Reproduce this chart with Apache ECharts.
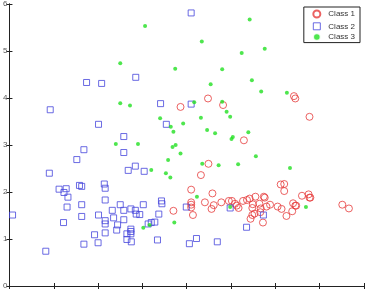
<!DOCTYPE html>
<html>
<head>
    <meta charset="utf-8">
    <title>Classes</title>
    <script src="https://cdn.jsdelivr.net/npm/echarts@6/dist/echarts.min.js"></script>
    <style>
        html, body { margin: 0; padding: 0; background: #fff; }
        #chart { width: 369px; height: 290px; }
    </style>
</head>
<body>
<div id="chart"></div>
<script type="text/javascript">
    const seriesNames = ['Class 1', 'Class 2', 'Class 3'];
    const yTicks = [0, 1, 2, 3, 4, 5, 6];

    const class1 = [
        [3.86, 3.81], [4.48, 3.99], [4.82, 3.85], [6.42, 4.04], [6.45, 3.99], [6.77, 3.60],
        [5.29, 3.10], [3.70, 1.60], [4.49, 2.60], [4.32, 2.36], [4.10, 2.05], [4.58, 1.97],
        [6.12, 2.16], [6.20, 2.17], [6.20, 2.02], [4.10, 1.78], [4.10, 1.73], [4.10, 1.67],
        [4.14, 1.51], [4.41, 1.78], [4.56, 1.64], [4.61, 1.72], [4.78, 1.78], [4.95, 1.81],
        [5.02, 1.81], [5.09, 1.75], [5.13, 1.71], [5.17, 1.66], [5.27, 1.81], [5.36, 1.83],
        [5.42, 1.86], [5.55, 1.90], [5.49, 1.74], [5.48, 1.66], [5.64, 1.75], [5.67, 1.65],
        [5.66, 1.57], [5.74, 1.90], [5.76, 1.88], [5.80, 1.69], [5.88, 1.73], [5.53, 1.54],
        [5.48, 1.51], [5.44, 1.43], [5.72, 1.35], [6.05, 1.69], [6.14, 1.64], [6.25, 1.49],
        [6.38, 1.59], [6.40, 1.76], [6.45, 1.71], [6.47, 1.71], [6.60, 1.92], [6.75, 1.95],
        [6.77, 1.88], [6.79, 1.88], [7.51, 1.73], [7.66, 1.65]
    ];

    const class2 = [
        [1.74, 4.33], [2.08, 4.31], [2.85, 4.44], [0.92, 3.75], [3.41, 3.88], [3.54, 3.44],
        [2.01, 3.44], [2.58, 3.18], [4.10, 5.81], [4.10, 3.87], [1.68, 2.90], [2.58, 2.84],
        [1.52, 2.69], [0.90, 2.40], [2.68, 2.46], [2.84, 2.55], [3.04, 2.44], [1.12, 2.06],
        [1.28, 2.07], [1.23, 1.99], [1.32, 1.89], [1.58, 2.14], [1.63, 2.12], [2.14, 2.17],
        [2.16, 2.08], [2.16, 1.83], [1.30, 1.68], [1.63, 1.73], [2.50, 1.73], [3.02, 1.73],
        [3.43, 1.81], [3.44, 1.75], [3.99, 1.68], [2.32, 1.61], [2.58, 1.61], [2.74, 1.64],
        [2.84, 1.61], [2.86, 1.53], [2.94, 1.52], [3.37, 1.53], [0.07, 1.51], [1.63, 1.48],
        [2.01, 1.51], [2.35, 1.45], [2.58, 1.41], [2.16, 1.39], [2.16, 1.32], [1.22, 1.35],
        [2.44, 1.30], [3.20, 1.35], [3.28, 1.36], [3.13, 1.32], [2.74, 1.21], [2.74, 1.16],
        [2.42, 1.19], [2.74, 1.11], [1.92, 1.09], [2.16, 1.13], [2.65, 1.11], [2.65, 0.99],
        [2.75, 0.94], [3.34, 0.98], [2.00, 0.92], [1.68, 0.89], [0.82, 0.74], [4.98, 1.66],
        [5.73, 1.51], [5.35, 1.25], [4.06, 0.90], [4.22, 1.01], [4.69, 0.94]
    ];

    const class3 = [
        [3.06, 5.53], [2.50, 4.74], [3.74, 4.62], [2.50, 3.89], [2.72, 3.84], [3.40, 3.57],
        [3.64, 3.39], [3.70, 3.28], [3.92, 3.46], [2.40, 3.02], [2.90, 3.02], [3.75, 3.00],
        [3.68, 2.96], [3.58, 2.68], [3.86, 2.82], [3.20, 2.47], [3.53, 2.40], [3.63, 2.31],
        [5.42, 5.67], [4.34, 5.20], [5.76, 5.05], [5.24, 4.96], [4.80, 4.61], [4.54, 4.29],
        [5.47, 4.38], [5.68, 4.14], [6.26, 4.11], [4.17, 3.91], [4.80, 3.92], [4.90, 3.71],
        [4.98, 3.60], [4.32, 3.58], [4.46, 3.32], [4.64, 3.25], [5.39, 3.27], [5.04, 3.17],
        [5.01, 3.13], [3.02, 1.24], [3.16, 1.30], [3.72, 1.35], [4.35, 2.60], [4.72, 2.57],
        [5.16, 2.59], [5.56, 2.76], [6.33, 2.51], [4.23, 1.90], [4.98, 1.68], [6.69, 1.68]
    ];

    const chart = echarts.init(document.getElementById('chart'));

    const boxAxis = {
        axisLine: { show: true, lineStyle: { color: '#222', width: 1 } },
        axisTick: { show: true, inside: true, length: 3, lineStyle: { color: '#222' } },
        splitLine: { show: false }
    };

    const option = {
        animation: false,
        backgroundColor: '#fff',
        grid: { left: 5, right: 5, top: 4, bottom: 3 },
        legend: {
            orient: 'vertical',
            right: 9,
            top: 7,
            padding: [1, 5, 1, 7],
            itemGap: 0.3,
            itemWidth: 7,
            itemHeight: 7,
            borderColor: '#222',
            borderWidth: 1,
            backgroundColor: '#fff',
            selectedMode: false,
            textStyle: { fontSize: 8, lineHeight: 9, color: '#333', fontFamily: 'Liberation Sans', padding: [0, 0, 0, 3] },
            data: [
                { name: seriesNames[0] },
                { name: seriesNames[1], itemStyle: { borderWidth: 1 } },
                { name: seriesNames[2], itemStyle: { borderColor: '#fff', borderWidth: 1.5 } }
            ]
        },
        xAxis: [
            Object.assign({ type: 'value', min: 0, max: 8, interval: 1, position: 'bottom',
                axisLabel: { show: false } }, boxAxis),
            Object.assign({ type: 'value', min: 0, max: 8, interval: 1, position: 'top',
                axisLabel: { show: false } }, boxAxis)
        ],
        yAxis: [
            Object.assign({ type: 'value', min: yTicks[0], max: yTicks[yTicks.length - 1], interval: 1,
                position: 'left',
                axisLabel: { show: true, margin: 2, fontSize: 8, color: '#555', fontFamily: 'Liberation Sans' } }, boxAxis),
            Object.assign({ type: 'value', min: yTicks[0], max: yTicks[yTicks.length - 1], interval: 1,
                position: 'right', axisLabel: { show: false } }, boxAxis)
        ],
        series: [
            {
                name: seriesNames[0],
                type: 'scatter',
                symbol: 'circle',
                symbolSize: 7,
                silent: true,
                itemStyle: { color: 'none', borderColor: '#e63b3b', borderWidth: 1 },
                data: class1
            },
            {
                name: seriesNames[1],
                type: 'scatter',
                symbol: 'rect',
                symbolSize: 6,
                silent: true,
                itemStyle: { color: 'none', borderColor: '#4646dc', borderWidth: 1 },
                data: class2
            },
            {
                name: seriesNames[2],
                type: 'scatter',
                symbol: 'circle',
                symbolSize: 4,
                silent: true,
                itemStyle: { color: '#22e022' },
                data: class3
            }
        ]
    };
    chart.setOption(option);
    window.addEventListener('resize', chart.resize);
</script>
</body>
</html>
